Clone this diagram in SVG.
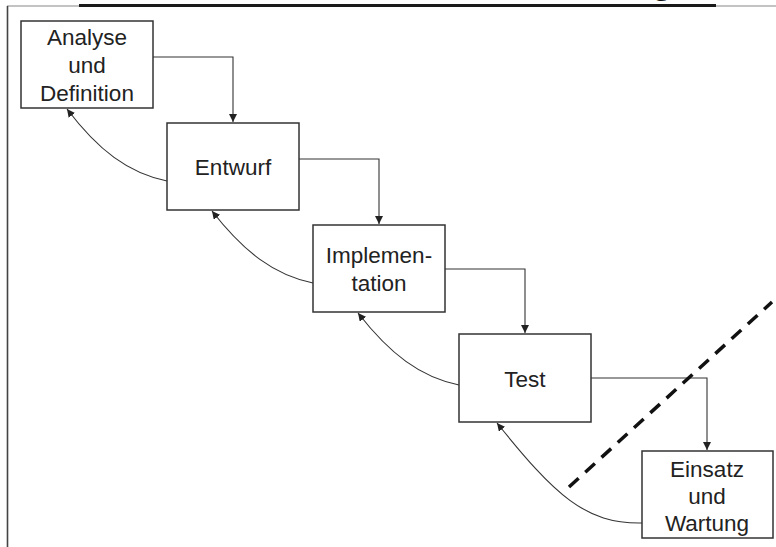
<svg xmlns="http://www.w3.org/2000/svg" width="776" height="547" viewBox="0 0 776 547">
<style>
.box{fill:#fff;stroke:#333;stroke-width:1.5}
.lbl{font-family:"Liberation Sans",Arial,sans-serif;font-size:22.5px;fill:#222;text-anchor:middle}
.con{fill:none;stroke:#333;stroke-width:1.1}
</style>
<defs>
<marker id="ah" viewBox="0 0 10 10" refX="10" refY="5" markerWidth="8" markerHeight="8" markerUnits="userSpaceOnUse" orient="auto">
<path d="M0,0 L10,5 L0,10 z" fill="#222"/>
</marker>
</defs>
<rect width="776" height="547" fill="#fff"/>
<g id="frame">
<line x1="7" y1="6" x2="776" y2="6" stroke="#888" stroke-width="1.2"/>
<line x1="79" y1="5.5" x2="716" y2="5.5" stroke="#1a1a1a" stroke-width="3"/>
<line x1="7.5" y1="6" x2="7.5" y2="547" stroke="#444" stroke-width="1.6"/>
<text x="651" y="-7" font-family="Liberation Sans,Arial,sans-serif" font-weight="bold" font-size="36" fill="#111">g</text>
</g>
<g id="connectors">
<path class="con" d="M153,57 H233 V122" marker-end="url(#ah)"/>
<path class="con" d="M299,159 H379 V224" marker-end="url(#ah)"/>
<path class="con" d="M445,269 H525 V333" marker-end="url(#ah)"/>
<path class="con" d="M591,378 H707 V450" marker-end="url(#ah)"/>
<path class="con" d="M167,181 C128,173 98,150 67,109" marker-end="url(#ah)"/>
<path class="con" d="M313,283 C274,275 244,252 212,211" marker-end="url(#ah)"/>
<path class="con" d="M459,385 C420,377 390,354 358,313" marker-end="url(#ah)"/>
<path class="con" d="M642,523 C585,524 555,495 497,423" marker-end="url(#ah)"/>
</g>
<g id="divider">
<line x1="569" y1="487" x2="772" y2="302" stroke="#111" stroke-width="3.5" stroke-dasharray="13 9"/>
</g>
<g id="analyse">
<rect class="box" x="21" y="21" width="132" height="87"/>
<text class="lbl" x="87" y="45">Analyse</text>
<text class="lbl" x="87" y="73">und</text>
<text class="lbl" x="87" y="101">Definition</text>
</g>
<g id="entwurf">
<rect class="box" x="167" y="123" width="132" height="87"/>
<text class="lbl" x="233" y="175">Entwurf</text>
</g>
<g id="implementation">
<rect class="box" x="313" y="225" width="132" height="87"/>
<text class="lbl" x="379" y="263">Implemen-</text>
<text class="lbl" x="379" y="291">tation</text>
</g>
<g id="test">
<rect class="box" x="459" y="334" width="132" height="88"/>
<text class="lbl" x="525" y="387">Test</text>
</g>
<g id="einsatz">
<rect class="box" x="642" y="451" width="131" height="87"/>
<text class="lbl" x="707" y="477">Einsatz</text>
<text class="lbl" x="707" y="504">und</text>
<text class="lbl" x="707" y="531">Wartung</text>
</g>
</svg>
